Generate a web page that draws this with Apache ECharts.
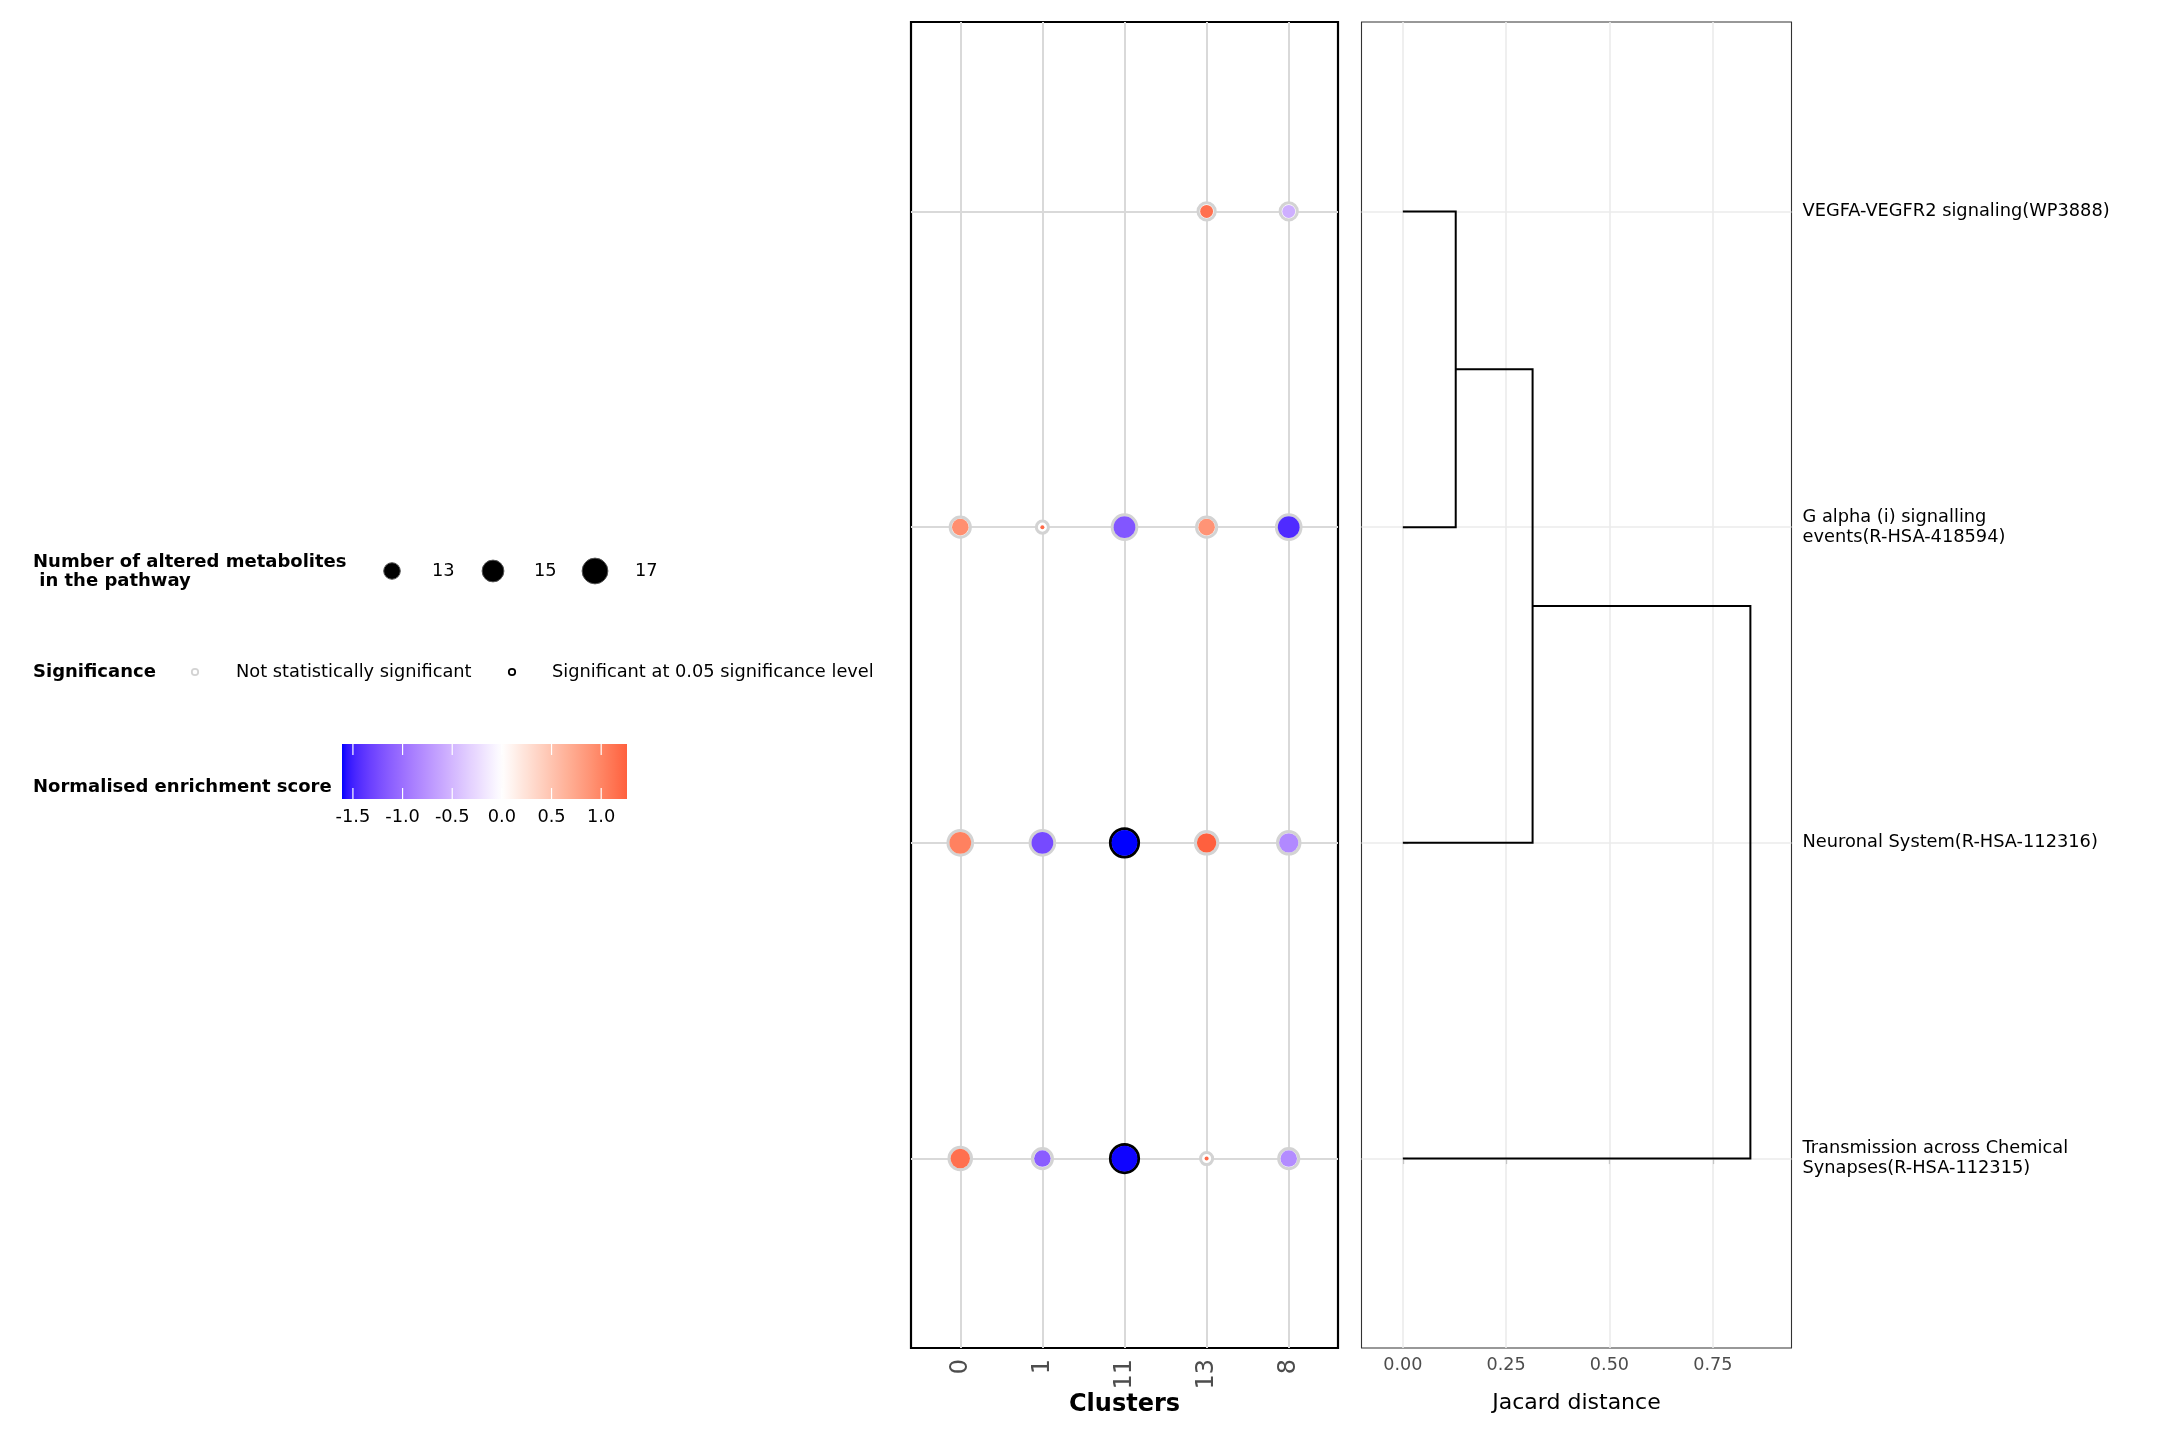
<!DOCTYPE html>
<html>
<head>
<meta charset="utf-8">
<script src="https://cdn.jsdelivr.net/npm/echarts@6/dist/echarts.min.js"></script>
<style>html,body{margin:0;padding:0;background:#fff}#c{width:2160px;height:1440px}</style>
</head>
<body>
<div id="c"></div>
<script>
// ---------------- data ----------------
const clusters = ['0', '1', '11', '13', '8'];
// bottom -> top
const pathways = [
  'Transmission across Chemical\nSynapses(R-HSA-112315)',
  'Neuronal System(R-HSA-112316)',
  'G alpha (i) signalling\nevents(R-HSA-418594)',
  'VEGFA-VEGFR2 signaling(WP3888)'
];
// one entry per dot
const dotCluster = [3, 4,   0, 1, 2, 3, 4,   0, 1, 2, 3, 4,   0, 1, 2, 3, 4];
const dotPathway = [3, 3,   2, 2, 2, 2, 2,   1, 1, 1, 1, 1,   0, 0, 0, 0, 0];
const dotMetabolites = [12, 12,   13, 11, 15, 13, 15,   15, 15, 17, 14, 14,   14, 13, 17, 11, 13];
const dotNES = [1.15, -0.55,   0.92, 1.2, -1.18, 0.88, -1.45,   1.03, -1.26, -1.61, 1.26, -0.82,   1.15, -1.13, -1.6, 1.2, -0.8];
const dotSignificant = [0, 0,   0, 0, 0, 0, 0,   0, 0, 1, 0, 0,   0, 0, 1, 0, 0];

// dendrogram: leaves are pathway indices 0..3, new nodes numbered from 4
const mergeA = [3, 4, 5];
const mergeB = [2, 1, 0];
const mergeHeight = [0.128, 0.314, 0.841];
const jacardTicks = [0, 0.25, 0.5, 0.75];

const sizeLegendValues = [13, 15, 17];
const colorbarTicks = [-1.5, -1.0, -0.5, 0.0, 0.5, 1.0];

// ---------------- helpers ----------------
function lin(c){c/=255;return c<=0.04045?c/12.92:Math.pow((c+0.055)/1.055,2.4);}
function rgb2lab(c){
  const r=lin(c[0]),g=lin(c[1]),b=lin(c[2]);
  const X=(r*0.4124564+g*0.3575761+b*0.1804375)/0.95047;
  const Y=(r*0.2126729+g*0.7151522+b*0.0721750);
  const Z=(r*0.0193339+g*0.1191920+b*0.9503041)/1.08883;
  const f=t=>t>0.008856?Math.cbrt(t):(7.787*t+16/116);
  const fx=f(X),fy=f(Y),fz=f(Z);
  return [116*fy-16,500*(fx-fy),200*(fy-fz)];
}
function lab2rgb(L,a,b){
  const fy=(L+16)/116,fx=fy+a/500,fz=fy-b/200;
  const fi=t=>t>0.206893?t*t*t:(t-16/116)/7.787;
  const X=fi(fx)*0.95047,Y=fi(fy),Z=fi(fz)*1.08883;
  const r=3.2404542*X-1.5371385*Y-0.4985314*Z;
  const g=-0.9692660*X+1.8760108*Y+0.0415560*Z;
  const bb=0.0556434*X-0.2040259*Y+1.0572252*Z;
  const gm=c=>{c=Math.min(1,Math.max(0,c));return Math.round(255*(c<=0.0031308?12.92*c:1.055*Math.pow(c,1/2.4)-0.055));};
  return 'rgb('+gm(r)+','+gm(g)+','+gm(bb)+')';
}
const LOW=rgb2lab([0,0,255]), MID=rgb2lab([255,255,255]), HIGH=rgb2lab([255,0,0]);
const nesMin=Math.min(...dotNES), nesMax=Math.max(...dotNES);
const nesAbs=Math.max(Math.abs(nesMin),Math.abs(nesMax));
function nesColor(v){
  let t=0.5+v/(2*nesAbs);
  let A,B,u;
  if(t<0.5){A=LOW;B=MID;u=t/0.5;}else{A=MID;B=HIGH;u=(t-0.5)/0.5;}
  return lab2rgb(A[0]+(B[0]-A[0])*u,A[1]+(B[1]-A[1])*u,A[2]+(B[2]-A[2])*u);
}
const metMin=Math.min(...dotMetabolites);
function fillDiam(m){return 4+8.9*Math.sqrt(Math.max(m-metMin,0));}
function ringDiam(m){const d=fillDiam(m);return Math.sqrt(d*d+130);}

const FONT='DejaVu Sans';

// ---------------- series data ----------------
const ringData=[], fillData=[];
for(let i=0;i<dotCluster.length;i++){
  const v=[dotCluster[i],dotPathway[i],dotMetabolites[i],dotNES[i],dotSignificant[i]];
  ringData.push({value:v,symbolSize:ringDiam(dotMetabolites[i]),
    itemStyle:{color:'#ffffff',borderColor:dotSignificant[i]?'#000000':'#d3d3d3',borderWidth:3,opacity:1}});
  fillData.push({value:v,symbolSize:fillDiam(dotMetabolites[i]),
    itemStyle:{color:nesColor(dotNES[i]),borderWidth:0,opacity:1}});
}
// dendrogram segments
const nodeX={}, nodeY={};
pathways.forEach((p,i)=>{nodeX[i]=0;nodeY[i]=i;});
const dendroData=[];
mergeHeight.forEach((h,k)=>{
  const a=mergeA[k], b=mergeB[k], id=pathways.length+k;
  dendroData.push({coords:[[nodeX[a],nodeY[a]],[h,nodeY[a]],[h,nodeY[b]],[nodeX[b],nodeY[b]]]});
  nodeX[id]=h; nodeY[id]=(nodeY[a]+nodeY[b])/2;
});

// ---------------- layout ----------------
const G0={left:911,top:22,width:427,height:1326};
const G1={left:1361.5,top:22,width:430,height:1326};

// ---------------- legends (graphic) ----------------
const graphics=[];
function txt(t,x,y,opt){
  graphics.push({type:'text',silent:true,style:Object.assign({text:t,x:x,y:y,fontFamily:FONT,fontSize:17.8,fill:'#000',align:'left',verticalAlign:'middle'},opt||{})});
}
txt('Number of altered metabolites\n in the pathway',33,571.5,{fontWeight:'bold',fontSize:18,lineHeight:19});
const sizeX=[392,493,595], sizeLabX=[432,534,635];
sizeLegendValues.forEach((v,i)=>{
  graphics.push({type:'circle',silent:true,shape:{cx:sizeX[i],cy:571,r:fillDiam(v)/2},style:{fill:'#000',stroke:'#555',lineWidth:1}});
  txt(String(v),sizeLabX[i],571);
});
txt('Significance',33,672,{fontWeight:'bold',fontSize:18});
graphics.push({type:'circle',silent:true,shape:{cx:195,cy:672,r:3.2},style:{fill:'#fff',stroke:'#d3d3d3',lineWidth:1.8}});
txt('Not statistically significant',236,672);
graphics.push({type:'circle',silent:true,shape:{cx:512,cy:672,r:3.2},style:{fill:'#fff',stroke:'#000',lineWidth:1.8}});
txt('Significant at 0.05 significance level',552,672);
txt('Normalised enrichment score',33,787,{fontWeight:'bold',fontSize:18});
const CB={x:342,y:744,w:285,h:55};
const stops=[];
for(let i=0;i<=60;i++){const v=nesMin+(nesMax-nesMin)*i/60;stops.push({offset:i/60,color:nesColor(v)});}
graphics.push({type:'rect',silent:true,shape:{x:CB.x,y:CB.y,width:CB.w,height:CB.h},
  style:{fill:new echarts.graphic.LinearGradient(0,0,1,0,stops)}});
colorbarTicks.forEach(t=>{
  const x=CB.x+(t-nesMin)/(nesMax-nesMin)*CB.w;
  graphics.push({type:'line',silent:true,shape:{x1:x,y1:CB.y,x2:x,y2:CB.y+11},style:{stroke:'#fff',lineWidth:1.2}});
  graphics.push({type:'line',silent:true,shape:{x1:x,y1:CB.y+CB.h-11,x2:x,y2:CB.y+CB.h},style:{stroke:'#fff',lineWidth:1.2}});
  txt(t.toFixed(1),x,817,{align:'center'});
});

// ---------------- chart ----------------
const chart=echarts.init(document.getElementById('c'),null,{renderer:'canvas'});
const clusterIdx=clusters.map((c,i)=>i);
const pathIdx=pathways.map((p,i)=>i);
chart.setOption({
  animation:false,
  backgroundColor:'#ffffff',
  textStyle:{fontFamily:FONT},
  grid:[
    Object.assign({show:true,borderColor:'#000',borderWidth:2.2,backgroundColor:'transparent'},G0),
    Object.assign({show:true,borderColor:'#333',borderWidth:1.1,backgroundColor:'transparent'},G1)
  ],
  xAxis:[
    {type:'value',gridIndex:0,min:-0.6,max:4.6,
     name:'Clusters',nameLocation:'middle',nameGap:45,nameMoveOverlap:false,
     nameTextStyle:{fontFamily:FONT,fontWeight:'bold',fontSize:24,color:'#000'},
     axisLine:{show:false},splitLine:{show:false},
     axisTick:{show:true,customValues:clusterIdx,length:5.5,lineStyle:{color:'#333',width:1.1}},
     axisLabel:{show:true,customValues:clusterIdx,rotate:90,margin:11,fontSize:24,color:'#4d4d4d',fontFamily:FONT,
       formatter:v=>clusters[Math.round(v)]}},
    {type:'value',gridIndex:1,min:-0.1,max:0.9405,
     name:'Jacard distance',nameLocation:'middle',nameGap:44,nameMoveOverlap:false,
     nameTextStyle:{fontFamily:FONT,fontSize:22,color:'#000'},
     axisLine:{show:false},splitLine:{show:false},
     axisTick:{show:true,customValues:jacardTicks,length:5.5,lineStyle:{color:'#333',width:1.1}},
     axisLabel:{show:true,customValues:jacardTicks,margin:8,fontSize:17.6,color:'#4d4d4d',fontFamily:FONT,
       formatter:v=>v.toFixed(2)}}
  ],
  yAxis:[
    {type:'value',gridIndex:0,min:-0.6,max:3.6,
     axisLine:{show:false},splitLine:{show:false},axisTick:{show:false},axisLabel:{show:false}},
    {type:'value',gridIndex:1,min:-0.6,max:3.6,position:'right',
     axisLine:{show:false},splitLine:{show:false},
     axisTick:{show:true,customValues:pathIdx,length:5.5,lineStyle:{color:'#333',width:1.1}},
     axisLabel:{show:true,customValues:pathIdx,margin:11,fontSize:17.8,color:'#000',fontFamily:FONT,lineHeight:20,
       align:'left',formatter:v=>pathways[Math.round(v)]}}
  ],
  series:[
    {type:'scatter',xAxisIndex:0,yAxisIndex:0,data:[],silent:true,z:1,
     markLine:{silent:true,z:1,symbol:['none','none'],label:{show:false},animation:false,
       lineStyle:{color:'#d9d9d9',width:2,type:'solid',opacity:1},
       data:clusterIdx.map(i=>({xAxis:i})).concat(pathIdx.map(i=>({yAxis:i})))}},
    {type:'scatter',xAxisIndex:1,yAxisIndex:1,data:[],silent:true,z:1,
     markLine:{silent:true,z:1,symbol:['none','none'],label:{show:false},animation:false,
       lineStyle:{color:'#ebebeb',width:1.6,type:'solid',opacity:1},
       data:jacardTicks.map(t=>({xAxis:t})).concat(pathIdx.map(i=>({yAxis:i})))}},
    {type:'scatter',xAxisIndex:0,yAxisIndex:0,data:ringData,silent:true,z:10,symbol:'circle',itemStyle:{opacity:1}},
    {type:'scatter',xAxisIndex:0,yAxisIndex:0,data:fillData,silent:true,z:11,symbol:'circle',itemStyle:{opacity:1}},
    {type:'lines',coordinateSystem:'cartesian2d',xAxisIndex:1,yAxisIndex:1,polyline:true,silent:true,z:10,
     lineStyle:{color:'#000',width:2,opacity:1},data:dendroData}
  ],
  graphic:graphics
});
</script>
</body>
</html>
